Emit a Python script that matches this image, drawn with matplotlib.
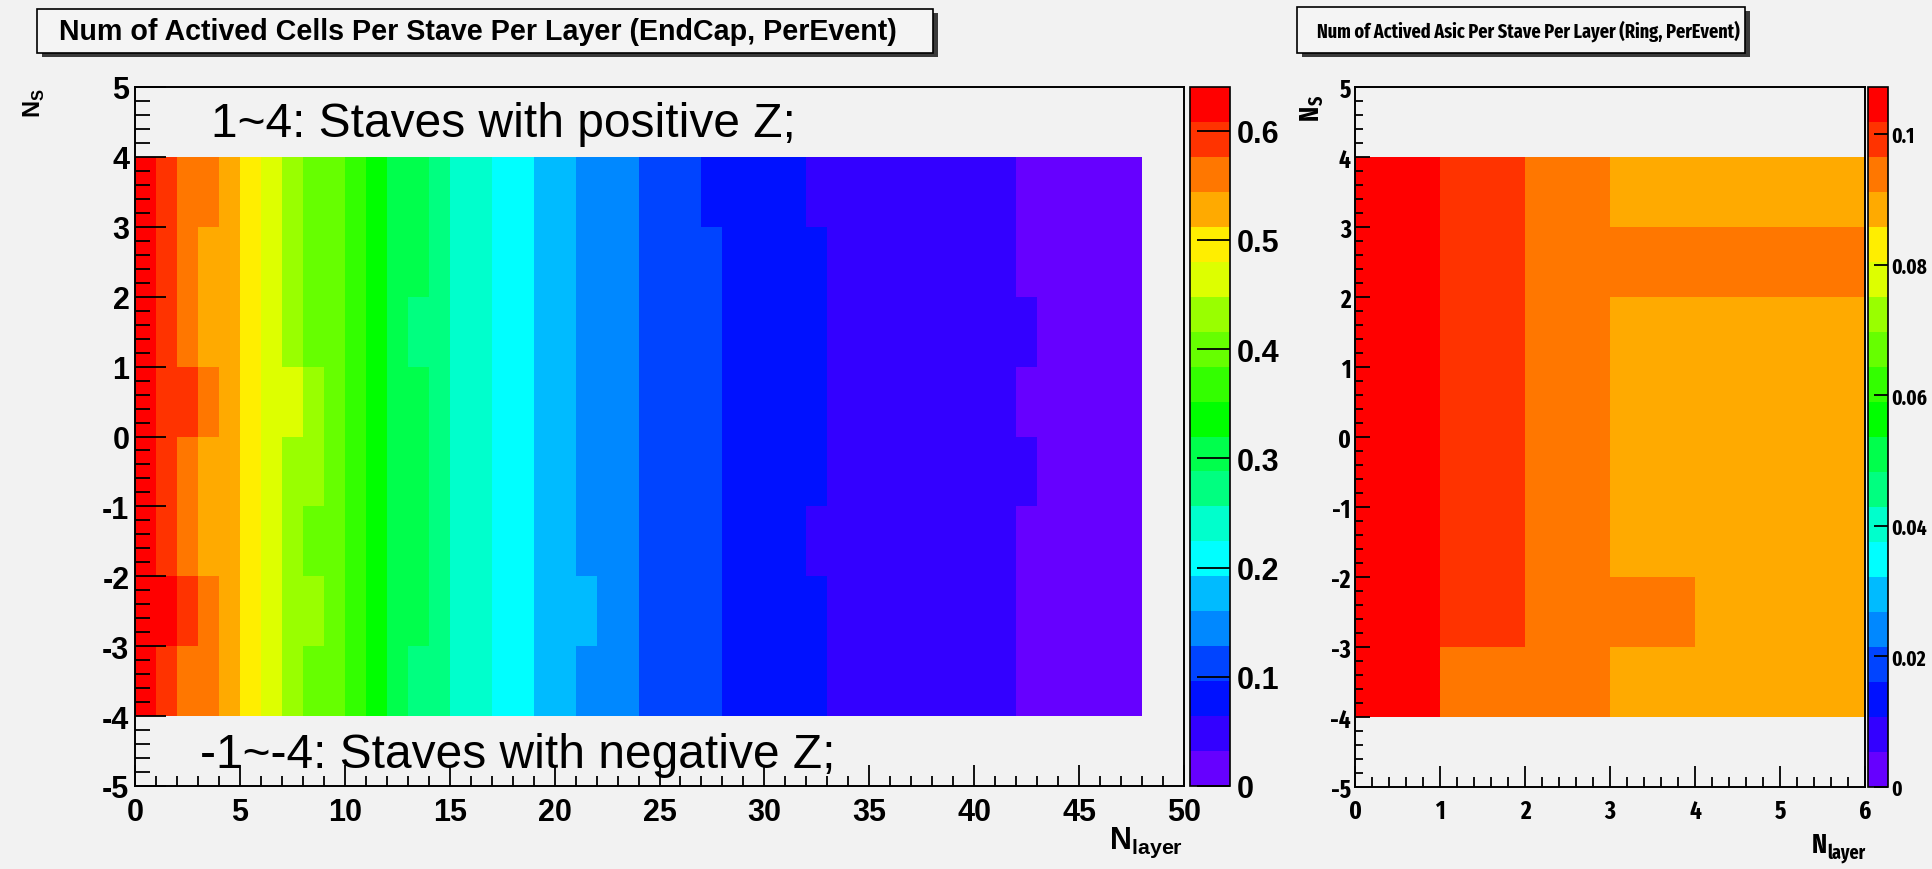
import os
import numpy as np
import matplotlib
matplotlib.use("Agg")
import matplotlib.pyplot as plt
from matplotlib import font_manager
from matplotlib.font_manager import FontProperties
from matplotlib.colors import ListedColormap, BoundaryNorm
from matplotlib.patches import Rectangle
from matplotlib.ticker import MultipleLocator

# canvas size in pixels (dpi 100)
W, H = 1933, 870

# ---------------------------------------------------------------- data
# EndCap: active cells per stave per layer, one list per stave bin (layers 0..47)
cells_y3 = [0.62, 0.59, 0.57, 0.55, 0.53, 0.50, 0.46, 0.43, 0.41, 0.39, 0.37, 0.34,
            0.31, 0.29, 0.27, 0.25, 0.23, 0.22, 0.20, 0.19, 0.17, 0.15, 0.14, 0.13,
            0.12, 0.11, 0.10, 0.09, 0.09, 0.08, 0.08, 0.07, 0.06, 0.06, 0.06, 0.05,
            0.05, 0.05, 0.04, 0.04, 0.04, 0.04, 0.03, 0.03, 0.02, 0.02, 0.01, 0.01]
cells_y2 = [0.62, 0.59, 0.56, 0.53, 0.52, 0.50, 0.46, 0.43, 0.41, 0.39, 0.37, 0.34,
            0.31, 0.29, 0.27, 0.25, 0.23, 0.22, 0.20, 0.19, 0.17, 0.15, 0.14, 0.13,
            0.12, 0.11, 0.11, 0.10, 0.09, 0.09, 0.08, 0.08, 0.07, 0.06, 0.06, 0.05,
            0.05, 0.05, 0.04, 0.04, 0.04, 0.04, 0.03, 0.03, 0.02, 0.02, 0.01, 0.01]
cells_y1 = [0.62, 0.59, 0.56, 0.53, 0.52, 0.50, 0.46, 0.43, 0.41, 0.39, 0.37, 0.34,
            0.30, 0.28, 0.27, 0.25, 0.23, 0.22, 0.20, 0.19, 0.17, 0.15, 0.14, 0.13,
            0.12, 0.11, 0.11, 0.10, 0.09, 0.09, 0.08, 0.08, 0.07, 0.06, 0.06, 0.05,
            0.05, 0.05, 0.04, 0.04, 0.04, 0.04, 0.04, 0.03, 0.02, 0.02, 0.01, 0.01]
cells_y0 = [0.62, 0.60, 0.58, 0.56, 0.53, 0.50, 0.47, 0.45, 0.43, 0.40, 0.37, 0.34,
            0.31, 0.29, 0.27, 0.25, 0.23, 0.22, 0.20, 0.19, 0.17, 0.15, 0.14, 0.13,
            0.12, 0.11, 0.11, 0.10, 0.09, 0.09, 0.08, 0.08, 0.07, 0.06, 0.06, 0.05,
            0.05, 0.05, 0.04, 0.04, 0.04, 0.04, 0.03, 0.03, 0.02, 0.02, 0.01, 0.01]
cells_ym1 = [0.62, 0.59, 0.56, 0.53, 0.52, 0.50, 0.46, 0.44, 0.42, 0.40, 0.37, 0.34,
             0.31, 0.29, 0.27, 0.25, 0.23, 0.22, 0.20, 0.19, 0.17, 0.15, 0.14, 0.13,
             0.12, 0.11, 0.11, 0.10, 0.09, 0.09, 0.08, 0.08, 0.07, 0.06, 0.06, 0.05,
             0.05, 0.05, 0.04, 0.04, 0.04, 0.04, 0.04, 0.03, 0.02, 0.02, 0.01, 0.01]
cells_ym2 = [0.62, 0.59, 0.56, 0.53, 0.52, 0.50, 0.46, 0.43, 0.41, 0.39, 0.37, 0.34,
             0.31, 0.29, 0.27, 0.25, 0.23, 0.22, 0.20, 0.19, 0.17, 0.15, 0.14, 0.13,
             0.12, 0.11, 0.11, 0.10, 0.09, 0.09, 0.08, 0.07, 0.06, 0.06, 0.06, 0.05,
             0.05, 0.05, 0.04, 0.04, 0.04, 0.04, 0.03, 0.03, 0.02, 0.02, 0.01, 0.01]
cells_ym3 = [0.63, 0.61, 0.59, 0.56, 0.53, 0.50, 0.46, 0.44, 0.42, 0.40, 0.37, 0.34,
             0.31, 0.29, 0.27, 0.25, 0.23, 0.22, 0.20, 0.19, 0.17, 0.165, 0.14, 0.13,
             0.12, 0.11, 0.11, 0.10, 0.09, 0.09, 0.08, 0.08, 0.07, 0.06, 0.06, 0.05,
             0.05, 0.05, 0.04, 0.04, 0.04, 0.04, 0.03, 0.03, 0.02, 0.02, 0.01, 0.01]
cells_ym4 = [0.62, 0.59, 0.57, 0.55, 0.53, 0.50, 0.46, 0.43, 0.41, 0.39, 0.37, 0.34,
             0.30, 0.28, 0.27, 0.25, 0.23, 0.22, 0.20, 0.19, 0.17, 0.15, 0.14, 0.13,
             0.12, 0.11, 0.11, 0.10, 0.09, 0.09, 0.08, 0.08, 0.07, 0.06, 0.06, 0.05,
             0.05, 0.05, 0.04, 0.04, 0.04, 0.04, 0.03, 0.03, 0.02, 0.02, 0.01, 0.01]
cells_zmax = 0.64
cells_ticks = [0, 0.1, 0.2, 0.3, 0.4, 0.5, 0.6]
cells_tick_labels = ["0", "0.1", "0.2", "0.3", "0.4", "0.5", "0.6"]

# Ring: active ASICs per stave per layer (layers 0..5)
asic_y3 = [0.104, 0.099, 0.094, 0.088, 0.088, 0.088]
asic_y2 = [0.104, 0.099, 0.094, 0.093, 0.093, 0.093]
asic_y1 = [0.104, 0.099, 0.094, 0.088, 0.088, 0.088]
asic_y0 = [0.104, 0.099, 0.094, 0.088, 0.088, 0.088]
asic_ym1 = [0.104, 0.099, 0.094, 0.088, 0.088, 0.088]
asic_ym2 = [0.104, 0.099, 0.094, 0.088, 0.088, 0.088]
asic_ym3 = [0.104, 0.099, 0.094, 0.093, 0.089, 0.088]
asic_ym4 = [0.104, 0.094, 0.093, 0.088, 0.088, 0.088]
asic_zmax = 0.1072
asic_ticks = [0, 0.02, 0.04, 0.06, 0.08, 0.1]
asic_tick_labels = ["0", "0.02", "0.04", "0.06", "0.08", "0.1"]

stave_edges = [-4, -3, -2, -1, 0, 1, 2, 3, 4]

# 20-step rainbow palette, low -> high
palette = ["#6600ff", "#3300ff", "#0011ff", "#0044ff", "#0088ff", "#00bbff",
           "#00ffff", "#00ffcc", "#00ff80", "#00ff4c", "#00ff00", "#33ff00",
           "#66ff00", "#99ff00", "#ddff00", "#ffee00", "#ffaa00", "#ff7700",
           "#ff3300", "#ff0000"]


# ---------------------------------------------------------------- fonts
def find_condensed_bold():
    # narrowest bold sans face on the system, if any
    ranks = [("extracondensed", 0), ("narrow", 1), ("semicondensed", 3), ("condensed", 2)]
    best = None
    for f in font_manager.fontManager.ttflist:
        base = os.path.basename(f.fname).lower().replace("-", "").replace("_", "").replace(" ", "")
        if "bold" not in base or "semibold" in base or "extrabold" in base:
            continue
        if "italic" in base or "oblique" in base or "mono" in base or "serif" in base:
            continue
        if "sans" not in base and "roboto" not in base:
            continue
        rank = None
        for key, r in ranks:
            if key in base:
                rank = r
                break
        if rank is None:
            continue
        if best is None or rank < best[0]:
            best = (rank, f.fname)
    return best[1] if best else None


cond_path = find_condensed_bold()
if cond_path:
    COND = FontProperties(fname=cond_path)
    cond_scale = 1.0
else:
    COND = FontProperties(family="Liberation Sans", weight="bold")
    cond_scale = 0.75

plt.rcParams["font.family"] = "Liberation Sans"
plt.rcParams["font.weight"] = "bold"
plt.rcParams["axes.unicode_minus"] = False
plt.rcParams["mathtext.fontset"] = "custom"
plt.rcParams["mathtext.bf"] = "Liberation Sans:bold"

BG = "#f2f2f2"
fig = plt.figure(figsize=(W / 100, H / 100), dpi=100)
fig.patch.set_facecolor(BG)


def fp_size(fp, size):
    p = fp.copy()
    p.set_size(size)
    return p


def fx(x):
    return x / W


def fy(y):
    return 1 - y / H


def px_axes(x0, y0, x1, y1):
    # axes from pixel box, origin at top-left
    return fig.add_axes([fx(x0), fy(y1), (x1 - x0) / W, (y1 - y0) / H])


def text_extent(t):
    return t.get_window_extent(renderer=fig.canvas.get_renderer())


def title_box(x0, y0, x1, y1, text, cx, target_w, fp):
    shadow = Rectangle((fx(x0 + 5), fy(y1 + 4)), (x1 - x0) / W, (y1 - y0) / H,
                       transform=fig.transFigure, facecolor="#3a3a3a", edgecolor="none")
    box = Rectangle((fx(x0), fy(y1)), (x1 - x0) / W, (y1 - y0) / H,
                    transform=fig.transFigure, facecolor="#f4f4f4", edgecolor="black", lw=1.2)
    fig.add_artist(shadow)
    fig.add_artist(box)
    t = fig.text(fx(cx), fy((y0 + y1) / 2), text, ha="center", va="center",
                 fontproperties=fp_size(fp, 16))
    t.set_fontsize(16 * target_w / text_extent(t).width)


def label_with_sub(x_right, y_base, main, sub, fp, size, drop):
    # horizontal "main_sub" label, right-aligned, baseline at y_base (px)
    ts = fig.text(fx(x_right), fy(y_base + drop), sub, ha="right", va="baseline",
                  fontproperties=fp_size(fp, size * 0.7))
    w_sub = text_extent(ts).width
    fig.text(fx(x_right - w_sub), fy(y_base), main, ha="right", va="baseline",
             fontproperties=fp_size(fp, size))


def vlabel_with_sub(x_base, y_start, main, sub, fp, size, drop):
    # text reading upwards from y_start (px), baseline along x_base
    tm = fig.text(fx(x_base), fy(y_start), main, rotation=90, rotation_mode="anchor",
                  ha="left", va="baseline", fontproperties=fp_size(fp, size))
    h_main = text_extent(tm).height
    fig.text(fx(x_base + drop), fy(y_start - h_main), sub, rotation=90, rotation_mode="anchor",
             ha="left", va="baseline", fontproperties=fp_size(fp, size * 0.7))


def draw_panel(ax, cax, rows, n_layers, zmax, ticks, tick_labels,
               xmax, xmajor, xminor, ytick_len, xtick_len, lab_fp, cb_fp, cb_len, ypad, xpad, cb_pad):
    z = np.array(rows[::-1])  # bottom stave bin first
    cmap = ListedColormap(palette)
    norm = BoundaryNorm(np.linspace(0, zmax, len(palette) + 1), cmap.N)
    mesh = ax.pcolormesh(np.arange(n_layers + 1), stave_edges, z, cmap=cmap, norm=norm,
                         edgecolors="none", antialiased=False)
    ax.set_facecolor(BG)
    ax.set_xlim(0, xmax)
    ax.set_ylim(-5, 5)
    ax.xaxis.set_major_locator(MultipleLocator(xmajor))
    ax.xaxis.set_minor_locator(MultipleLocator(xminor))
    ax.yaxis.set_major_locator(MultipleLocator(1))
    ax.yaxis.set_minor_locator(MultipleLocator(0.2))
    ax.tick_params(which="both", direction="in", top=False, right=False,
                   color="black", width=1.3)
    ax.tick_params(axis="y", which="major", length=ytick_len, pad=ypad)
    ax.tick_params(axis="y", which="minor", length=ytick_len / 2)
    ax.tick_params(axis="x", which="major", length=xtick_len, pad=xpad)
    ax.tick_params(axis="x", which="minor", length=xtick_len / 2)
    for lab in ax.get_xticklabels() + ax.get_yticklabels():
        lab.set_fontproperties(lab_fp)
    for s in ax.spines.values():
        s.set_linewidth(1.4)
        s.set_color("black")

    cb = fig.colorbar(mesh, cax=cax)
    cb.outline.set_linewidth(1.2)
    cb.minorticks_off()
    cb.set_ticks(ticks, labels=tick_labels)
    cax.tick_params(direction="in", length=cb_len, width=1.3, left=False, right=True,
                    labelright=True, labelleft=False, pad=cb_pad)
    for lab in cax.get_yticklabels():
        lab.set_fontproperties(cb_fp)
    return mesh


# ---------------------------------------------------------------- left: EndCap cells
REG = FontProperties(family="Liberation Sans", weight="bold")

ax1 = px_axes(135, 88, 1184, 787)
cax1 = px_axes(1190, 88, 1230, 787)
draw_panel(ax1, cax1,
           [cells_y3, cells_y2, cells_y1, cells_y0, cells_ym1, cells_ym2, cells_ym3, cells_ym4],
           48, cells_zmax, cells_ticks, cells_tick_labels,
           50, 5, 1, 22, 15, fp_size(REG, 22), fp_size(REG, 22), 24, 4, 8, 5)

ax1.text(3.62, 4.30, "1~4: Staves with positive Z;", fontsize=34.5,
         fontweight="normal", ha="left", va="baseline")
ax1.text(3.10, -4.73, "-1~-4: Staves with negative Z;", fontsize=34.5,
         fontweight="normal", ha="left", va="baseline")

fig.text(fx(1183), fy(826), r"$\mathbf{N}_{\mathbf{layer}}$", ha="right", va="top",
         fontsize=22)
fig.text(fx(34), fy(103), r"$\mathbf{N}_{\mathbf{S}}$", ha="center", va="center",
         rotation=90, fontsize=17)

title_box(37, 10, 933, 54, "Num of Actived Cells Per Stave Per Layer (EndCap, PerEvent)",
          478, 837, REG)

# ---------------------------------------------------------------- right: Ring ASICs
ax2 = px_axes(1355, 88, 1865, 788)
cax2 = px_axes(1868, 88, 1888, 788)
draw_panel(ax2, cax2,
           [asic_y3, asic_y2, asic_y1, asic_y0, asic_ym1, asic_ym2, asic_ym3, asic_ym4],
           6, asic_zmax, asic_ticks, asic_tick_labels,
           6, 1, 0.2, 11, 15, fp_size(COND, 18 * cond_scale), fp_size(COND, 15 * cond_scale),
           10, 3, 8, 2)

label_with_sub(1865, 853, "N", "layer", COND, 20 * cond_scale, 6)
vlabel_with_sub(1318, 120, "N", "S", COND, 20 * cond_scale, 5)

title_box(1297, 8, 1745, 54, "Num of Actived Asic Per Stave Per Layer (Ring, PerEvent)",
          1528, 425, COND)

fig.savefig("out.png", dpi=100, facecolor=fig.get_facecolor())
